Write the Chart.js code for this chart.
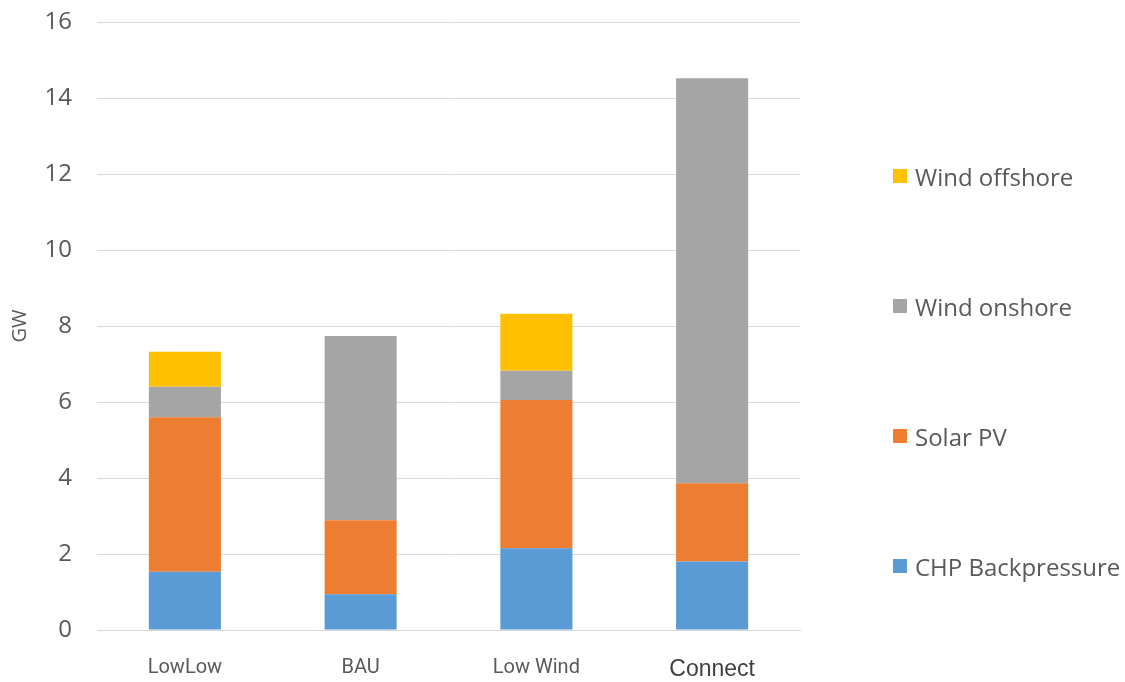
<!DOCTYPE html>
<html lang="en">
<head>
    <meta charset="UTF-8">
    <title>Installed capacity by scenario</title>
    <script src="https://cdn.jsdelivr.net/npm/chart.js"></script>
    <style>
        html, body {
            margin: 0;
            padding: 0;
            background: #ffffff;
        }
        .wrap {
            position: relative;
            width: 1125px;
            height: 682px;
        }
        #legend {
            position: absolute;
            left: 893px;
            top: 161px;
            display: flex;
            flex-direction: column;
            gap: 100px;
            font-family: "Open Sans", sans-serif;
            font-size: 24px;
            color: #595959;
        }
        .item {
            display: flex;
            align-items: center;
            height: 30px;
            white-space: nowrap;
        }
        .box {
            width: 14px;
            height: 14px;
            margin-right: 8px;
        }
    </style>
</head>
<body>
    <div class="wrap">
        <canvas id="capChart" width="1125" height="682"></canvas>
        <div id="legend"></div>
    </div>

    <script>
        const scenarios = ['LowLow', 'BAU', 'Low Wind', 'Connect'];
        const chpBackpressure = [1.53, 0.94, 2.15, 1.80];
        const solarPV = [4.07, 1.95, 3.90, 2.06];
        const windOnshore = [0.80, 4.85, 0.77, 10.66];
        const windOffshore = [0.92, 0, 1.50, 0];
        const yTicks = [0, 2, 4, 6, 8, 10, 12, 14, 16];

        const datasets = [
            { label: 'CHP Backpressure', data: chpBackpressure, backgroundColor: '#5b9bd5' },
            { label: 'Solar PV', data: solarPV, backgroundColor: '#ed7d31' },
            { label: 'Wind onshore', data: windOnshore, backgroundColor: '#a5a5a5' },
            { label: 'Wind offshore', data: windOffshore, backgroundColor: '#ffc000' }
        ];
        datasets.forEach(d => {
            d.barPercentage = 0.41;
            d.categoryPercentage = 1.0;
            d.borderWidth = 0;
        });

        const ctx = document.getElementById('capChart').getContext('2d');
        const capChart = new Chart(ctx, {
            type: 'bar',
            data: { labels: scenarios, datasets: datasets },
            options: {
                responsive: false,
                animation: false,
                layout: { padding: { top: 22, right: 325, bottom: 0, left: 0 } },
                plugins: {
                    legend: { display: false },
                    tooltip: { enabled: false }
                },
                scales: {
                    x: {
                        stacked: true,
                        grid: { display: false, drawTicks: false },
                        border: { display: true, color: '#d9d9d9', width: 1 },
                        ticks: {
                            padding: 26,
                            color: (c) => c.index === 3 ? '#404040' : '#595959',
                            font: (c) => c.index === 3
                                ? { family: 'Liberation Sans', size: 23 }
                                : { family: 'Roboto', size: 20 }
                        },
                        afterFit: (scale) => {
                            scale.height = 52;
                            scale.paddingLeft = 0;
                            scale.paddingRight = 0;
                        }
                    },
                    y: {
                        stacked: true,
                        min: 0,
                        max: 16,
                        afterBuildTicks: (scale) => {
                            scale.ticks = yTicks.map(v => ({ value: v }));
                        },
                        grid: { color: '#d9d9d9', lineWidth: 1, drawTicks: false },
                        border: { display: false },
                        ticks: {
                            padding: 25,
                            color: '#595959',
                            font: { family: 'Open Sans', size: 24 }
                        },
                        title: {
                            display: true,
                            text: 'GW',
                            color: '#595959',
                            font: { family: 'Open Sans', size: 20 },
                            padding: { top: 8, bottom: 0 }
                        },
                        afterFit: (scale) => {
                            scale.width = 97;
                            scale.paddingTop = 0;
                            scale.paddingBottom = 0;
                        }
                    }
                }
            }
        });

        // legend drawn top-down in reverse stacking order
        const legend = document.getElementById('legend');
        datasets.slice().reverse().forEach(d => {
            const item = document.createElement('div');
            item.className = 'item';
            const box = document.createElement('span');
            box.className = 'box';
            box.style.background = d.backgroundColor;
            item.appendChild(box);
            item.appendChild(document.createTextNode(d.label));
            legend.appendChild(item);
        });
    </script>
</body>
</html>
